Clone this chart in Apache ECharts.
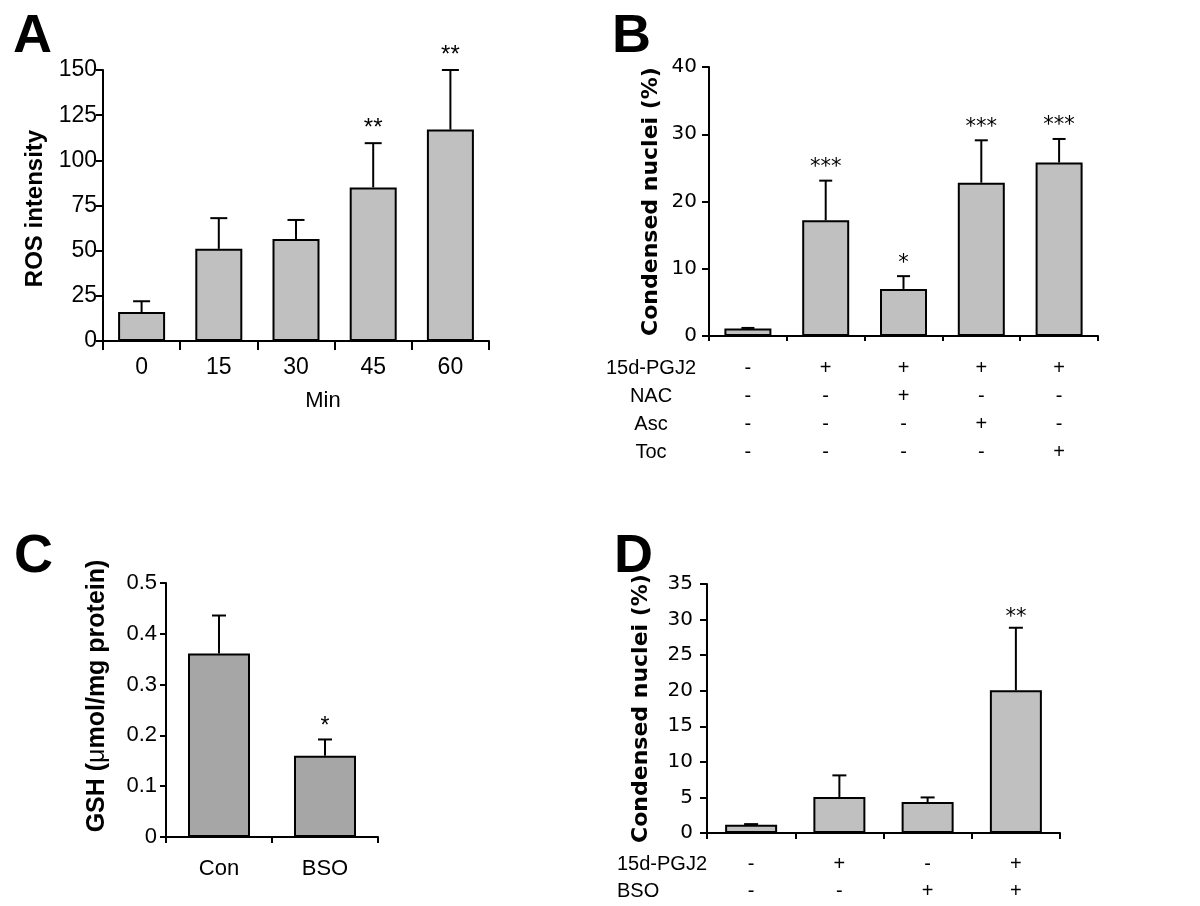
<!DOCTYPE html>
<html><head><meta charset="utf-8">
<script src="https://cdn.jsdelivr.net/npm/echarts@6/dist/echarts.min.js"></script>
<style>html,body{margin:0;padding:0;background:#fff}#c{width:1200px;height:906px}</style>
</head><body><div id="c"></div>
<script>
// ---- Panel A ----
const minA = ['0', '15', '30', '45', '60'];
const rosA = [16, 51, 56.5, 85, 117];
const rosErrA = [6, 17, 10.5, 24.5, 33];
const sigA = ['', '', '', '**', '**'];

// ---- Panel B ----
const rowNamesB = ['15d-PGJ2', 'NAC', 'Asc', 'Toc'];
const pgj2B = ['-', '+', '+', '+', '+'];
const nacB  = ['-', '-', '+', '-', '-'];
const ascB  = ['-', '-', '-', '+', '-'];
const tocB  = ['-', '-', '-', '-', '+'];
const nucleiB = [1.1, 17.2, 7.0, 22.8, 25.8];
const nucleiErrB = [0.1, 5.9, 1.9, 6.3, 3.5];
const sigB = ['', '***', '*', '***', '***'];

// ---- Panel C ----
const groupsC = ['Con', 'BSO'];
const gshC = [0.361, 0.160];
const gshErrC = [0.075, 0.032];
const sigC = ['', '*'];

// ---- Panel D ----
const rowNamesD = ['15d-PGJ2', 'BSO'];
const pgj2D = ['-', '+', '-', '+'];
const bsoD  = ['-', '-', '+', '+'];
const nucleiD = [1.15, 5.05, 4.35, 20.05];
const nucleiErrD = [0.1, 3.05, 0.65, 8.8];
const sigD = ['', '', '', '**'];

const ARIAL = '"Liberation Sans", Arial, sans-serif';
const VERD = '"DejaVu Sans", Verdana, sans-serif';

const catsB = pgj2B.map((_, i) => [pgj2B[i], nacB[i], ascB[i], tocB[i]].join('\n'));
const catsD = pgj2D.map((_, i) => [pgj2D[i], bsoD[i]].join('\n'));

const grids = [
  {left: 103, top: 70, width: 386, height: 271},
  {left: 709, top: 67, width: 389, height: 269},
  {left: 166, top: 583, width: 212, height: 254},
  {left: 707, top: 584, width: 353, height: 249}
].map(g => Object.assign({outerBoundsMode: 'none', containLabel: false}, g));

const axLine = {show: true, onZero: false, lineStyle: {color: '#000', width: 2}};
function tick(len) { return {show: true, inside: false, length: len, lineStyle: {color: '#000', width: 2}}; }

function xAx(idx, data, tickLen, label) {
  return {type: 'category', gridIndex: idx, data: data, boundaryGap: true,
    axisLine: axLine, axisTick: Object.assign(tick(tickLen), {alignWithLabel: false}),
    axisLabel: Object.assign({color: '#000', interval: 0}, label),
    splitLine: {show: false}};
}
function yAx(idx, max, interval, tickLen, label, name) {
  return Object.assign({type: 'value', gridIndex: idx, min: 0, max: max, interval: interval,
    axisLine: axLine, axisTick: tick(tickLen),
    axisLabel: Object.assign({color: '#000'}, label),
    splitLine: {show: false}, nameLocation: 'middle', nameRotate: 90}, name);
}

function barSeries(idx, vals, color, width) {
  return {type: 'bar', xAxisIndex: idx, yAxisIndex: idx, data: vals, barWidth: width,
    itemStyle: {color: color, borderColor: '#000', borderWidth: 2}, silent: true, z: 2};
}
function errSeries(idx, vals, errs, sigs, capW, sigOff, sigFont) {
  return {type: 'custom', xAxisIndex: idx, yAxisIndex: idx, z: 5, silent: true,
    data: vals.map((v, i) => [i, v, v + errs[i]]),
    renderItem: function (params, api) {
      const p0 = api.coord([api.value(0), api.value(1)]);
      const p1 = api.coord([api.value(0), api.value(2)]);
      const ch = [
        {type: 'line', shape: {x1: p0[0], y1: p0[1], x2: p1[0], y2: p1[1]}, style: {stroke: '#000', lineWidth: 2}},
        {type: 'line', shape: {x1: p1[0] - capW / 2, y1: p1[1], x2: p1[0] + capW / 2, y2: p1[1]}, style: {stroke: '#000', lineWidth: 2}}
      ];
      const s = sigs[params.dataIndex];
      if (s) ch.push({type: 'text', x: p1[0], y: p1[1] - sigOff,
        style: {text: s, fill: '#000', font: sigFont, align: 'center', verticalAlign: 'middle'}});
      return {type: 'group', children: ch};
    }};
}

// row labels beneath panels B and D (aligned with the axis label lines)
const rowB = {axisY: 336, margin: 18, lh: 28};
const rowD = {axisY: 833, margin: 18, lh: 27};
const graphics = [
  {type: 'text', left: 13, top: 10, style: {text: 'A', font: 'bold 54px ' + ARIAL, fill: '#000'}},
  {type: 'text', left: 612, top: 10, style: {text: 'B', font: 'bold 54px ' + ARIAL, fill: '#000'}},
  {type: 'text', left: 14, top: 530, style: {text: 'C', font: 'bold 54px ' + ARIAL, fill: '#000'}},
  {type: 'text', left: 614, top: 530, style: {text: 'D', font: 'bold 54px ' + ARIAL, fill: '#000'}},
  {type: 'text', x: 323, y: 401, style: {text: 'Min', font: '22px ' + ARIAL, fill: '#000', align: 'center', verticalAlign: 'middle'}}
];
rowNamesB.forEach((t, k) => graphics.push({type: 'text', x: 651, y: rowB.axisY + rowB.margin + rowB.lh * (k + 0.5),
  style: {text: t, font: '20px ' + ARIAL, fill: '#000', align: 'center', verticalAlign: 'middle'}}));
rowNamesD.forEach((t, k) => graphics.push({type: 'text', x: 617, y: rowD.axisY + rowD.margin + rowD.lh * (k + 0.5),
  style: {text: t, font: '20px ' + ARIAL, fill: '#000', align: 'left', verticalAlign: 'middle'}}));

const option = {
  animation: false,
  backgroundColor: '#fff',
  grid: grids,
  graphic: graphics,
  xAxis: [
    xAx(0, minA, 9, {fontFamily: ARIAL, fontSize: 23, margin: 15}),
    xAx(1, catsB, 5, {fontFamily: ARIAL, fontSize: 20, margin: rowB.margin, lineHeight: rowB.lh}),
    xAx(2, groupsC, 6, {fontFamily: ARIAL, fontSize: 22, margin: 21}),
    xAx(3, catsD, 6, {fontFamily: ARIAL, fontSize: 20, margin: rowD.margin, lineHeight: rowD.lh})
  ],
  yAxis: [
    yAx(0, 150, 25, 7, {fontFamily: ARIAL, fontSize: 23, margin: 6},
      {name: 'ROS intensity', nameGap: 56, nameTextStyle: {fontFamily: ARIAL, fontWeight: 'bold', fontSize: 24, color: '#000', padding: [0, 6, 0, 0]}}),
    yAx(1, 40, 10, 7, {fontFamily: VERD, fontSize: 20, margin: 12},
      {name: 'Condensed nuclei (%)', nameGap: 47, nameTextStyle: {fontFamily: VERD, fontWeight: 'bold', fontSize: 22, color: '#000'}}),
    yAx(2, 0.5, 0.1, 6, {fontFamily: ARIAL, fontSize: 22, margin: 9, formatter: v => v === 0 ? '0' : v.toFixed(1)},
      {name: '{b|GSH (}{m|\u03bc}{b|mol/mg protein)}', nameGap: 56,
       nameTextStyle: {color: '#000', padding: [0, 0, 0, 28], rich: {
         b: {fontFamily: ARIAL, fontWeight: 'bold', fontSize: 25, color: '#000'},
         m: {fontFamily: ARIAL, fontWeight: 'normal', fontSize: 25, color: '#000'}}}}),
    yAx(3, 35, 5, 7, {fontFamily: VERD, fontSize: 20, margin: 14},
      {name: 'Condensed nuclei (%)', nameGap: 55, nameTextStyle: {fontFamily: VERD, fontWeight: 'bold', fontSize: 22, color: '#000'}})
  ],
  series: [
    barSeries(0, rosA, '#c0c0c0', 47),
    errSeries(0, rosA, rosErrA, sigA, 17, 15, '24px ' + ARIAL),
    barSeries(1, nucleiB, '#c0c0c0', 47),
    errSeries(1, nucleiB, nucleiErrB, sigB, 13, 13, '21px ' + VERD),
    barSeries(2, gshC, '#a6a6a6', 62),
    errSeries(2, gshC, gshErrC, sigC, 14, 13, '23px ' + ARIAL),
    barSeries(3, nucleiD, '#c0c0c0', 52),
    errSeries(3, nucleiD, nucleiErrD, sigD, 14, 10, '21px ' + VERD)
  ]
};
const chart = echarts.init(document.getElementById('c'), null, {renderer: 'canvas'});
chart.setOption(option);
</script></body></html>
